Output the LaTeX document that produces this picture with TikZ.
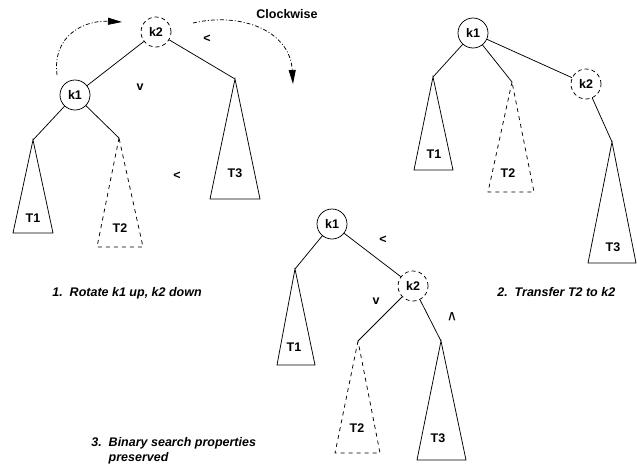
\documentclass[tikz,border=0pt]{standalone}
\usepackage{fontspec}
\setmainfont{Liberation Sans}
\usetikzlibrary{arrows.meta}

\newcommand\figfont{\fontsize{12.5}{15.5}\selectfont\bfseries}

\tikzset{
  key/.style={circle,draw,minimum size=30pt,inner sep=0pt,font=\figfont},
  moved/.style={key,dash pattern=on 4pt off 3pt},
  gone/.style={dash pattern=on 4pt off 4pt},
  lbl/.style={font=\figfont,inner sep=1pt},
  note/.style={font=\figfont\itshape,anchor=west,inner sep=0pt},
  turn/.style={dash pattern=on 4pt off 2pt on 1pt off 2pt,-{Triangle[length=14pt,width=7pt]}},
}

\begin{document}
\begin{tikzpicture}[x=1pt,y=-1pt,line width=0.75pt]
  \useasboundingbox (0,0) rectangle (637,469);

  % before the rotation
  \node[moved] (k2a) at (156,32) {k2};
  \node[key] (k1a) at (75,95) {k1};
  \coordinate (t1a) at (33,140);
  \coordinate (t2a) at (119,138);
  \coordinate (t3a) at (235,79);
  \draw (k2a) -- (k1a);
  \draw (k2a) -- (t3a);
  \draw (k1a) -- (t1a);
  \draw (k1a) -- (t2a);
  \draw (t1a) -- ++(-20,93) -- ++(40,0) -- cycle;
  \draw[gone] (t2a) -- ++(-22,109) -- ++(46,0) -- cycle;
  \draw (t3a) -- ++(-25,120) -- ++(50,0) -- cycle;
  \node[lbl] (t1alab) at (33,218) {T1};
  \node[lbl] (t2alab) at (120,228) {T2};
  \node[lbl] (t3alab) at (235,173) {T3};
  \node[lbl] (lessa) at (207,39) {<};
  \node[lbl] (lessb) at (177,176) {<};
  \node[lbl] (belowa) at (140,87) {v};

  \coordinate (upfrom) at (57,75);
  \coordinate (upto) at (122,22);
  \coordinate (downfrom) at (193,23);
  \coordinate (downto) at (293,84);
  \draw[turn] (upfrom) .. controls (52,35) and (85,20) .. (upto);
  \draw[turn] (downfrom) .. controls (240,12) and (290,30) .. (downto);
  \node[lbl] (cw) at (287,14) {Clockwise};

  \node[note] (stepa) at (52,293) {1.\ \ Rotate k1 up, k2 down};

  % after the rotation
  \node[key] (k1b) at (473,33) {k1};
  \node[moved] (k2b) at (586,84) {k2};
  \coordinate (t1b) at (433,77);
  \coordinate (t2b) at (512,82);
  \coordinate (t3b) at (612,142);
  \draw (k1b) -- (k2b);
  \draw (k1b) -- (t1b);
  \draw (k1b) -- (t2b);
  \draw (k2b) -- (t3b);
  \draw (t1b) -- ++(-19,93) -- ++(39,0) -- cycle;
  \draw[gone] (t2b) -- ++(-24,110) -- ++(46,0) -- cycle;
  \draw (t3b) -- ++(-24,121) -- ++(48,0) -- cycle;
  \node[lbl] (t1blab) at (434,154) {T1};
  \node[lbl] (t2blab) at (508,173) {T2};
  \node[lbl] (t3blab) at (613,247) {T3};

  \node[note] (stepb) at (497,292) {2.\ \ Transfer T2 to k2};

  % T2 moved under k2
  \node[key] (k1c) at (332,224) {k1};
  \node[moved] (k2c) at (413,286) {k2};
  \coordinate (t1c) at (295,269);
  \coordinate (t2c) at (358,341);
  \coordinate (t3c) at (441,341);
  \draw (k1c) -- (k2c);
  \draw (k1c) -- (t1c);
  \draw (k2c) -- (t2c);
  \draw (k2c) -- (t3c);
  \draw (t1c) -- ++(-18,96) -- ++(38,0) -- cycle;
  \draw[gone] (t2c) -- ++(-23,112) -- ++(45,0) -- cycle;
  \draw (t3c) -- ++(-24,119) -- ++(49,0) -- cycle;
  \node[lbl] (t1clab) at (294,347) {T1};
  \node[lbl] (t2clab) at (357,428) {T2};
  \node[lbl] (t3clab) at (438,438) {T3};
  \node[lbl] (lessc) at (383,240) {<};
  \node[lbl] (belowc) at (376,301) {v};
  \node[lbl] (abovec) at (452,319) {\scalebox{1}[1.5]{\textasciicircum}};

  \node[note,align=left] (stepc) at (91,451)
    {3.\ \ Binary search properties\\\hphantom{3.\ \ }preserved};
\end{tikzpicture}
\end{document}
